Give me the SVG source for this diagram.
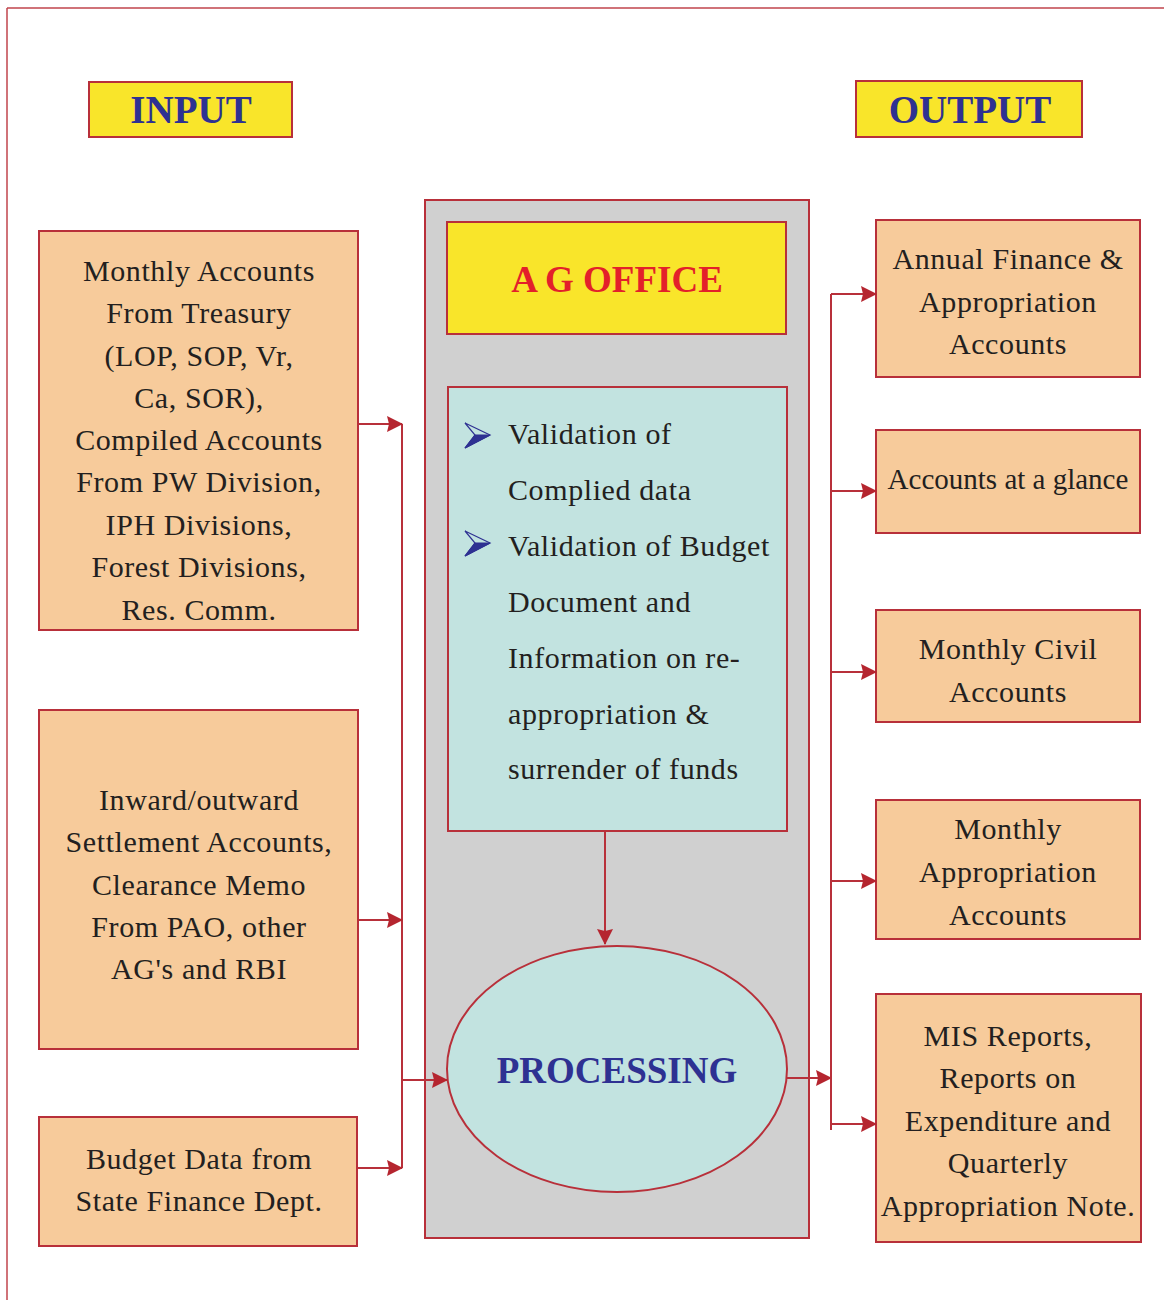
<svg xmlns="http://www.w3.org/2000/svg" width="1164" height="1300" viewBox="0 0 1164 1300">
<style>
.frame{stroke:#c0444c;stroke-width:1.5;fill:none}
.hdr{fill:#f9e52a;stroke:#b8303a;stroke-width:2}
.hdrt{font-family:"Liberation Serif","DejaVu Serif",serif;font-weight:bold;font-size:39px;fill:#2e3192;text-anchor:middle}
.box{fill:#f7cb9b;stroke:#b8303a;stroke-width:2}
.t{font-family:"Liberation Serif","DejaVu Serif",serif;font-size:30px;letter-spacing:0.6px;fill:#231f20;text-anchor:middle}
.tl{font-family:"Liberation Serif","DejaVu Serif",serif;font-size:30px;letter-spacing:0.6px;fill:#231f20}
.conn line{stroke:#b8303a;stroke-width:2;fill:none}
.bul{stroke:#2e3192;stroke-width:1.2;stroke-linejoin:miter}
</style>
<defs>
<marker id="ah" markerWidth="16" markerHeight="16" refX="15" refY="8" orient="auto" markerUnits="userSpaceOnUse">
<path d="M0,0 L16,8 L0,16 L2,8 Z" fill="#b5252f"/>
</marker>
</defs>
<g id="frame">
<line class="frame" x1="7" y1="8" x2="1164" y2="8"/>
<line class="frame" x1="7" y1="8" x2="7" y2="1300"/>
</g>
<g id="input-header">
<rect class="hdr" x="89" y="82" width="203" height="55"/>
<text class="hdrt" x="191" y="123">INPUT</text>
</g>
<g id="output-header">
<rect class="hdr" x="856" y="81" width="226" height="56"/>
<text class="hdrt" x="970" y="123">OUTPUT</text>
</g>
<g id="ag-office-panel">
<rect x="425" y="200" width="384" height="1038" fill="#d0d0d0" stroke="#b8303a" stroke-width="2"/>
</g>
<g id="ag-office">
<rect class="hdr" x="447" y="222" width="339" height="112"/>
<text x="617" y="292" font-family="Liberation Serif,DejaVu Serif,serif" font-weight="bold" font-size="37" fill="#e3202a" text-anchor="middle">A G OFFICE</text>
</g>
<g id="validation">
<rect x="448" y="387" width="339" height="444" fill="#c2e3e0" stroke="#b8303a" stroke-width="2"/>
<path class="bul" d="M465,423 L490,435 L465,448 L475,435 Z" fill="#c2e3e0"/>
<path class="bul" d="M475,435 L490,435 L465,448 Z" fill="#2e3192"/>
<path class="bul" d="M465,531 L490,543 L465,556 L475,543 Z" fill="#c2e3e0"/>
<path class="bul" d="M475,543 L490,543 L465,556 Z" fill="#2e3192"/>
<text class="tl" x="508" y="444">Validation of</text>
<text class="tl" x="508" y="500">Complied data</text>
<text class="tl" x="508" y="556">Validation of Budget</text>
<text class="tl" x="508" y="612">Document and</text>
<text class="tl" x="508" y="668">Information on re-</text>
<text class="tl" x="508" y="724">appropriation &amp;</text>
<text class="tl" x="508" y="779">surrender of funds</text>
</g>
<g id="processing">
<ellipse cx="617" cy="1069" rx="170" ry="123" fill="#c2e3e0" stroke="#b8303a" stroke-width="2"/>
<text x="617" y="1083" font-family="Liberation Serif,DejaVu Serif,serif" font-weight="bold" font-size="37" fill="#2e3192" text-anchor="middle">PROCESSING</text>
</g>
<g id="in1">
<rect class="box" x="39" y="231" width="319" height="399"/>
<text class="t" x="199" y="281">Monthly Accounts</text>
<text class="t" x="199" y="323">From Treasury</text>
<text class="t" x="199" y="366">(LOP, SOP, Vr,</text>
<text class="t" x="199" y="408">Ca, SOR),</text>
<text class="t" x="199" y="450">Compiled Accounts</text>
<text class="t" x="199" y="492">From PW Division,</text>
<text class="t" x="199" y="535">IPH Divisions,</text>
<text class="t" x="199" y="577">Forest Divisions,</text>
<text class="t" x="199" y="620">Res. Comm.</text>
</g>
<g id="in2">
<rect class="box" x="39" y="710" width="319" height="339"/>
<text class="t" x="199" y="810">Inward/outward</text>
<text class="t" x="199" y="852">Settlement Accounts,</text>
<text class="t" x="199" y="895">Clearance Memo</text>
<text class="t" x="199" y="937">From PAO, other</text>
<text class="t" x="199" y="979">AG's and RBI</text>
</g>
<g id="in3">
<rect class="box" x="39" y="1117" width="318" height="129"/>
<text class="t" x="199" y="1169">Budget Data from</text>
<text class="t" x="199" y="1211">State Finance Dept.</text>
</g>
<g id="out1">
<rect class="box" x="876" y="220" width="264" height="157"/>
<text class="t" x="1008" y="269">Annual Finance &amp;</text>
<text class="t" x="1008" y="312">Appropriation</text>
<text class="t" x="1008" y="354">Accounts</text>
</g>
<g id="out2">
<rect class="box" x="876" y="430" width="264" height="103"/>
<text class="t" x="1008" y="489" style="letter-spacing:0;font-size:29px">Accounts at a glance</text>
</g>
<g id="out3">
<rect class="box" x="876" y="610" width="264" height="112"/>
<text class="t" x="1008" y="659">Monthly Civil</text>
<text class="t" x="1008" y="702">Accounts</text>
</g>
<g id="out4">
<rect class="box" x="876" y="800" width="264" height="139"/>
<text class="t" x="1008" y="839">Monthly</text>
<text class="t" x="1008" y="882">Appropriation</text>
<text class="t" x="1008" y="925">Accounts</text>
</g>
<g id="out5">
<rect class="box" x="876" y="994" width="265" height="248"/>
<text class="t" x="1008" y="1046">MIS Reports,</text>
<text class="t" x="1008" y="1088">Reports on</text>
<text class="t" x="1008" y="1131">Expenditure and</text>
<text class="t" x="1008" y="1173">Quarterly</text>
<text class="t" x="1008" y="1216">Appropriation Note.</text>
</g>
<g id="connectors" class="conn">
<line x1="402" y1="424" x2="402" y2="1168"/>
<line x1="358" y1="424" x2="402" y2="424" marker-end="url(#ah)"/>
<line x1="358" y1="920" x2="402" y2="920" marker-end="url(#ah)"/>
<line x1="357" y1="1168" x2="402" y2="1168" marker-end="url(#ah)"/>
<line x1="402" y1="1080" x2="447" y2="1080" marker-end="url(#ah)"/>
<line x1="605" y1="831" x2="605" y2="944" marker-end="url(#ah)"/>
<line x1="787" y1="1078" x2="831" y2="1078" marker-end="url(#ah)"/>
<line x1="831" y1="294" x2="831" y2="1130"/>
<line x1="831" y1="294" x2="876" y2="294" marker-end="url(#ah)"/>
<line x1="831" y1="491" x2="876" y2="491" marker-end="url(#ah)"/>
<line x1="831" y1="672" x2="876" y2="672" marker-end="url(#ah)"/>
<line x1="831" y1="881" x2="876" y2="881" marker-end="url(#ah)"/>
<line x1="831" y1="1124" x2="876" y2="1124" marker-end="url(#ah)"/>
</g>
</svg>
